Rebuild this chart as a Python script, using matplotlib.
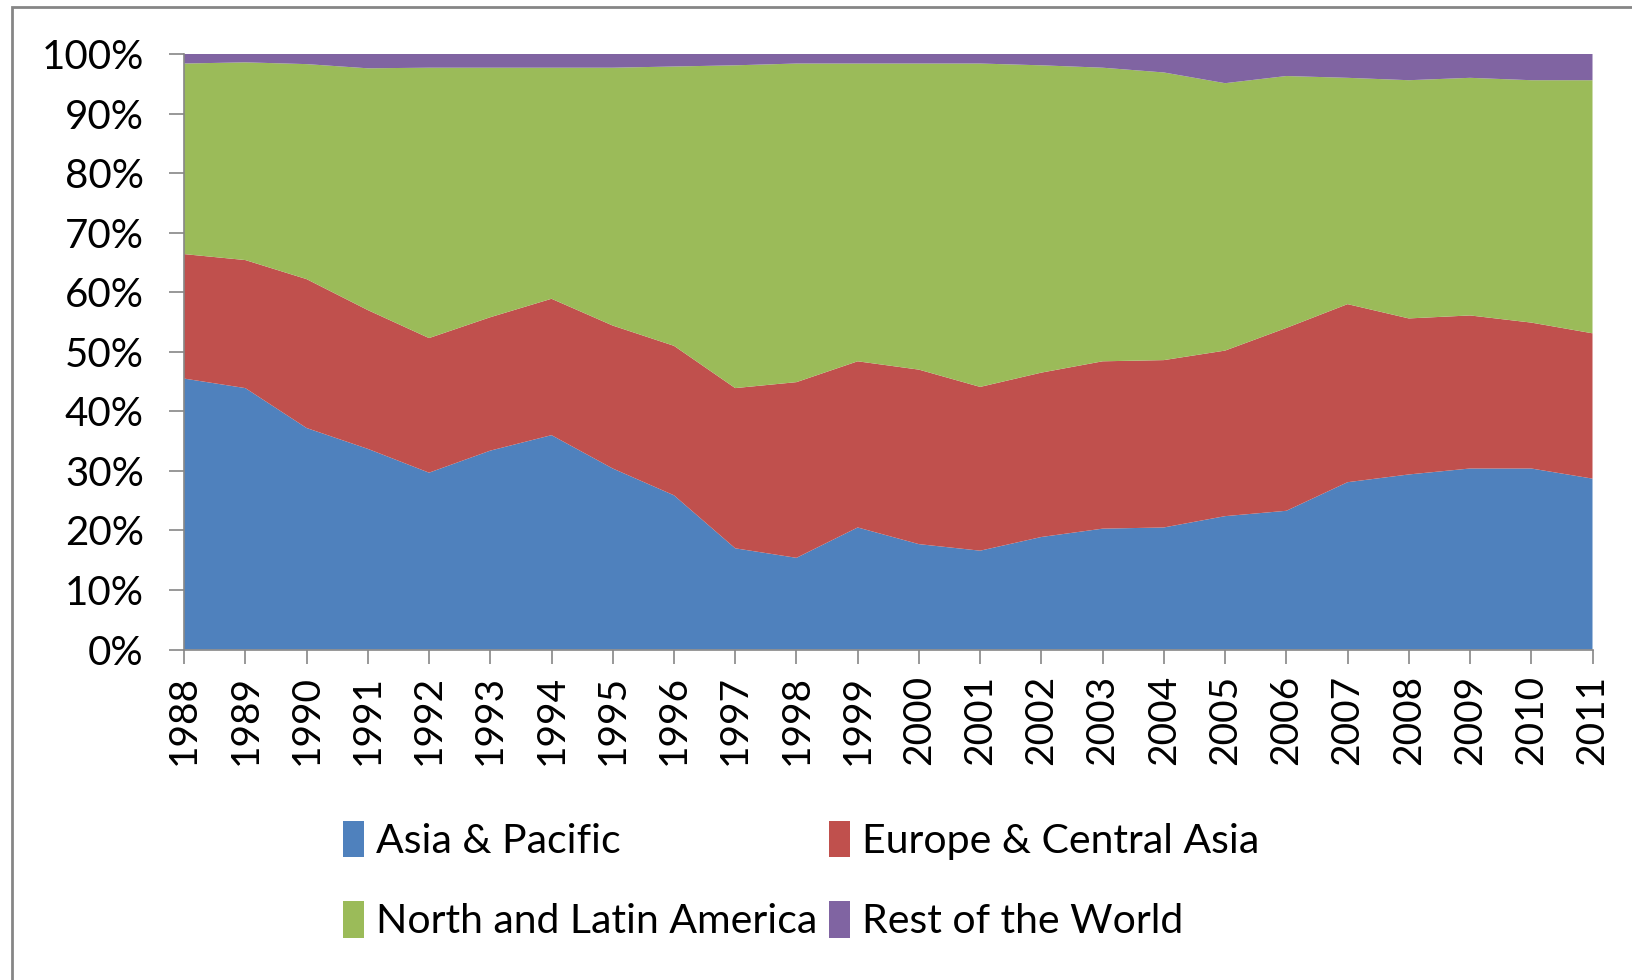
import numpy as np
import matplotlib.pyplot as plt
from matplotlib.patches import Rectangle, Patch

# Data: share of total (%) per region
years = list(range(1988, 2012))
asia_pacific = [45.5, 43.9, 37.2, 33.7, 29.7, 33.4, 36.0, 30.4, 25.9, 17.0, 15.4, 20.5,
                17.7, 16.6, 18.9, 20.3, 20.5, 22.4, 23.3, 28.1, 29.4, 30.4, 30.4, 28.7]
europe_central_asia = [20.9, 21.5, 25.0, 23.3, 22.6, 22.4, 22.9, 24.0, 25.1, 26.9, 29.5, 27.9,
                       29.3, 27.5, 27.6, 28.1, 28.1, 27.8, 30.7, 29.9, 26.2, 25.7, 24.5, 24.4]
north_latin_america = [32.0, 33.2, 36.1, 40.6, 45.4, 41.9, 38.8, 43.3, 46.9, 54.2, 53.5, 50.0,
                       51.4, 54.3, 51.6, 49.3, 48.3, 44.9, 42.3, 38.0, 40.0, 39.9, 40.7, 42.5]
rest_of_world = [1.6, 1.4, 1.7, 2.4, 2.3, 2.3, 2.3, 2.3, 2.1, 1.9, 1.6, 1.6,
                 1.6, 1.6, 1.9, 2.3, 3.1, 4.9, 3.7, 4.0, 4.4, 4.0, 4.4, 4.4]

labels = ['Asia & Pacific', 'Europe & Central Asia', 'North and Latin America', 'Rest of the World']
colors = ['#4F81BD', '#C0504D', '#9BBB59', '#8064A2']

plt.rcParams['font.family'] = ['Lato', 'DejaVu Sans']

fig = plt.figure(figsize=(16.32, 9.8), dpi=100)
ax = fig.add_axes([0.1128, 0.3372, 0.8630, 0.6077])

# normalise to 100% stacked
stack = np.array([asia_pacific, europe_central_asia, north_latin_america, rest_of_world])
stack = stack / stack.sum(axis=0) * 100
ax.stackplot(years, stack, colors=colors, linewidth=0)

ax.set_xlim(years[0], years[-1])
ax.set_ylim(0, 100)
ax.set_yticks(range(0, 101, 10))
ax.set_yticklabels([f'{v}%' for v in range(0, 101, 10)])
ax.set_xticks(years)
ax.set_xticklabels([str(y) for y in years], rotation=90)

for s in ['top', 'right']:
    ax.spines[s].set_visible(False)
for s in ['left', 'bottom']:
    ax.spines[s].set_color('#868686')
    ax.spines[s].set_linewidth(1.2)
ax.tick_params(axis='y', length=11, width=1.2, color='#868686', pad=18, labelsize=29)
ax.tick_params(axis='x', length=10, width=1.2, color='#868686', pad=8, labelsize=28)

# legend: row 1 Asia / Europe, row 2 America / Rest
handles = [Patch(facecolor=c) for c in colors]
order = [0, 2, 1, 3]
fig.legend([handles[i] for i in order], [labels[i] for i in order],
           loc='center', bbox_to_anchor=(0.491, 0.1015), ncol=2, frameon=False,
           fontsize=29.5, handlelength=0.5, handleheight=1.0, handletextpad=0.3,
           columnspacing=0.3, labelspacing=1.0)

# outer chart border
fig.patches.append(Rectangle((12 / 1632, -0.05), 1.1, 1 - 7 / 980 + 0.05, transform=fig.transFigure,
                             fill=False, edgecolor='#868686', linewidth=2))

fig.savefig('out.png', dpi=100)
